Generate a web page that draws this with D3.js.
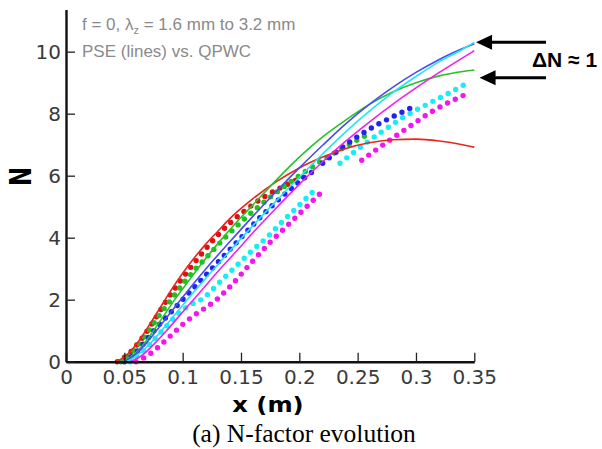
<!DOCTYPE html>
<html>
<head>
<meta charset="utf-8">
<script src="https://cdn.jsdelivr.net/npm/d3@7"></script>
<style>
  html, body { margin: 0; padding: 0; background: #fff; }
  svg { display: block; }
</style>
</head>
<body>
<svg id="chart" width="602" height="449"></svg>
<script>
// ---- Axis ticks ----
const xMajorTicks = [0, 0.05, 0.1, 0.15, 0.2, 0.25, 0.3, 0.35];
const xTickLabels = ["0", "0.05", "0.1", "0.15", "0.2", "0.25", "0.3", "0.35"];
const yMajorTicks = [0, 2, 4, 6, 8, 10];
const yTickLabels = ["0", "2", "4", "6", "8", "10"];

// ---- PSE N-factor curves (solid lines) ----
const pseRedX = [0.042, 0.05, 0.06, 0.07, 0.08, 0.09, 0.10, 0.11, 0.12, 0.13, 0.14, 0.16, 0.18, 0.20, 0.22, 0.24, 0.26, 0.28, 0.30, 0.32, 0.34, 0.35];
const pseRedN = [0, 0.15, 0.55, 1.1, 1.7, 2.3, 2.85, 3.35, 3.8, 4.2, 4.6, 5.25, 5.8, 6.25, 6.6, 6.88, 7.06, 7.16, 7.18, 7.12, 7.0, 6.92];

const pseGreenX = [0.047, 0.055, 0.065, 0.075, 0.085, 0.095, 0.105, 0.115, 0.13, 0.145, 0.16, 0.18, 0.20, 0.22, 0.24, 0.26, 0.28, 0.30, 0.32, 0.34, 0.35];
const pseGreenN = [0, 0.15, 0.5, 1.0, 1.55, 2.1, 2.6, 3.1, 3.8, 4.45, 5.05, 5.85, 6.6, 7.25, 7.8, 8.3, 8.7, 9.0, 9.22, 9.36, 9.41];

const pseBlueX = [0.05, 0.06, 0.07, 0.08, 0.09, 0.10, 0.11, 0.12, 0.14, 0.16, 0.18, 0.20, 0.22, 0.24, 0.26, 0.28, 0.30, 0.32, 0.34, 0.35];
const pseBlueN = [0, 0.25, 0.65, 1.12, 1.6, 2.08, 2.55, 3.0, 3.85, 4.68, 5.48, 6.25, 6.98, 7.68, 8.3, 8.85, 9.33, 9.75, 10.1, 10.26];

const pseCyanX = [0.052, 0.06, 0.07, 0.08, 0.09, 0.10, 0.11, 0.12, 0.14, 0.16, 0.18, 0.20, 0.22, 0.24, 0.26, 0.28, 0.30, 0.32, 0.34, 0.35];
const pseCyanN = [0, 0.18, 0.5, 0.92, 1.37, 1.82, 2.27, 2.7, 3.55, 4.38, 5.18, 5.95, 6.7, 7.42, 8.08, 8.68, 9.2, 9.68, 10.08, 10.3];

const pseMagentaX = [0.055, 0.065, 0.075, 0.085, 0.10, 0.115, 0.13, 0.145, 0.16, 0.18, 0.20, 0.22, 0.24, 0.26, 0.28, 0.30, 0.32, 0.34, 0.35];
const pseMagentaN = [0, 0.2, 0.55, 0.95, 1.6, 2.25, 2.9, 3.52, 4.15, 4.95, 5.72, 6.45, 7.12, 7.73, 8.3, 8.83, 9.33, 9.8, 10.03];

// ---- QPWC N-factor curves (dotted); null marks where a run of points is absent ----
const qpwcRedX = [0.044, 0.055, 0.065, 0.075, 0.085, 0.095, 0.105, 0.115, 0.125, 0.14, 0.155, 0.17, 0.185, 0.2, 0.205];
const qpwcRedN = [0, 0.3, 0.75, 1.3, 1.9, 2.45, 2.95, 3.42, 3.87, 4.45, 4.92, 5.32, 5.63, 5.9, 5.98];

const qpwcGreenX = [0.047, 0.06, 0.07, 0.08, 0.09, 0.10, 0.11, 0.12, 0.135, 0.15, 0.165, 0.18, 0.2, 0.22, 0.24, 0.259];
const qpwcGreenN = [0, 0.45, 0.95, 1.5, 2.0, 2.5, 2.95, 3.35, 3.95, 4.5, 5.0, 5.45, 6.0, 6.5, 6.95, 7.33];

const qpwcBlueX = [0.05, 0.06, 0.07, 0.08, 0.09, 0.10, 0.11, 0.12, 0.135, 0.15, 0.165, 0.18, 0.2, 0.212, 0.216, 0.22, 0.24, 0.26, 0.28, 0.3006];
const qpwcBlueN = [0, 0.3, 0.75, 1.2, 1.6, 2.0, 2.4, 2.8, 3.4, 4.0, 4.6, 5.15, 5.8, 6.15, null, 6.4, 7.0, 7.5, 7.9, 8.27];

const qpwcCyanX = [0.055, 0.065, 0.075, 0.085, 0.095, 0.105, 0.1177, 0.13, 0.145, 0.16, 0.172, 0.185, 0.2, 0.2134, 0.224, 0.2349, 0.25, 0.27, 0.29, 0.312, 0.33, 0.346];
const qpwcCyanN = [0, 0.3, 0.7, 1.1, 1.5, 1.8, 2.05, 2.5, 3.05, 3.6, 4.0, 4.5, 5.05, 5.55, null, 6.4, 6.85, 7.4, 7.9, 8.35, 8.7, 9.03];

const qpwcMagentaX = [0.06, 0.07, 0.08, 0.09, 0.10, 0.11, 0.12, 0.129, 0.14, 0.159, 0.175, 0.19, 0.205, 0.218, 0.235, 0.2535, 0.275, 0.295, 0.315, 0.33, 0.345];
const qpwcMagentaN = [0, 0.2, 0.5, 0.85, 1.2, 1.5, 1.75, 2.0, 2.4, 3.2, 3.85, 4.4, 4.95, 5.43, null, 6.5, 7.08, 7.6, 8.1, 8.4, 8.66];

const pseSeries = [
  { color: "#e8241e", x: pseRedX, n: pseRedN },
  { color: "#26c226", x: pseGreenX, n: pseGreenN },
  { color: "#4a4af0", x: pseBlueX, n: pseBlueN },
  { color: "#1fe6f5", x: pseCyanX, n: pseCyanN },
  { color: "#f020ee", x: pseMagentaX, n: pseMagentaN }
];
const qpwcSeries = [
  { color: "#e01010", x: qpwcRedX, n: qpwcRedN },
  { color: "#20c020", x: qpwcGreenX, n: qpwcGreenN },
  { color: "#2323f0", x: qpwcBlueX, n: qpwcBlueN },
  { color: "#18ecf5", x: qpwcCyanX, n: qpwcCyanN },
  { color: "#f414f0", x: qpwcMagentaX, n: qpwcMagentaN }
];

// ---- Scales ----
const x = d3.scaleLinear().domain([0, 0.35]).range([66, 474.3]);
const y = d3.scaleLinear().domain([0, 11.36]).range([361.7, 9.5]);

const svg = d3.select("#chart");

// ---- Curves ----
const line = d3.line()
  .defined(d => d[1] !== null)
  .x(d => x(d[0]))
  .y(d => y(d[1]))
  .curve(d3.curveMonotoneX);

const zipPts = s => s.x.map((v, i) => [v, s.n[i]]);

const plot = svg.append("g");

plot.selectAll("path.qpwc")
  .data(qpwcSeries)
  .join("path")
  .attr("class", "qpwc")
  .attr("d", s => line(zipPts(s)))
  .attr("fill", "none")
  .attr("stroke", s => s.color)
  .attr("stroke-width", 5.4)
  .attr("stroke-linecap", "round")
  .attr("stroke-dasharray", "0 8.6");

plot.selectAll("path.pse")
  .data(pseSeries)
  .join("path")
  .attr("class", "pse")
  .attr("d", s => line(zipPts(s)))
  .attr("fill", "none")
  .attr("stroke", s => s.color)
  .attr("stroke-width", 1.6);

// ---- Axes ----
const xMinor = d3.range(0, 0.3501, 0.01);
const yMinor = d3.range(0, 11.01, 0.5);

const axisFont = "'DejaVu Sans', sans-serif";

const gx = svg.append("g").attr("transform", `translate(0,${y(0)})`);
gx.call(d3.axisBottom(x).tickValues(xMinor).tickSize(-5).tickSizeOuter(0).tickFormat(""));
gx.call(d3.axisBottom(x).tickValues(xMajorTicks).tickSize(-9).tickSizeOuter(0)
  .tickPadding(8).tickFormat((d, i) => xTickLabels[i]));
gx.selectAll("path.domain").attr("stroke", "#111").attr("stroke-width", 2.4);
gx.selectAll("line").attr("stroke", "#222").attr("stroke-width", 1.3);
gx.selectAll("text").attr("font-family", axisFont).attr("font-size", 20).attr("fill", "#3a3a3a");

const gy = svg.append("g").attr("transform", `translate(${x(0)},0)`);
gy.call(d3.axisLeft(y).tickValues(yMinor).tickSize(-5).tickSizeOuter(0).tickFormat(""));
gy.call(d3.axisLeft(y).tickValues(yMajorTicks).tickSize(-9).tickSizeOuter(0)
  .tickPadding(5).tickFormat((d, i) => yTickLabels[i]));
gy.selectAll("path.domain").attr("stroke", "#111").attr("stroke-width", 2.4);
gy.selectAll("line").attr("stroke", "#222").attr("stroke-width", 1.3);
gy.selectAll("text").attr("font-family", axisFont).attr("font-size", 20).attr("fill", "#3a3a3a");

// ---- Axis titles ----
svg.append("text")
  .attr("transform", `translate(268,412) scale(1.1,1)`)
  .attr("text-anchor", "middle")
  .attr("font-family", "'DejaVu Sans', sans-serif")
  .attr("font-weight", "bold")
  .attr("font-size", 22)
  .attr("fill", "#000")
  .text("x (m)");

svg.append("text")
  .attr("transform", `translate(31,176.5) rotate(-90) scale(0.95,1.25)`)
  .attr("text-anchor", "middle")
  .attr("font-family", "'DejaVu Sans', sans-serif")
  .attr("font-weight", "bold")
  .attr("font-size", 24)
  .attr("fill", "#000")
  .text("N");

// ---- Case description ----
const note = svg.append("g")
  .attr("font-family", "'Liberation Sans', Arial, sans-serif")
  .attr("font-size", 17)
  .attr("fill", "#8a8a8a");
const l1 = note.append("text").attr("x", 82).attr("y", 30);
l1.append("tspan").text("f = 0, ");
l1.append("tspan").text("λ");
l1.append("tspan").attr("font-size", 11).attr("dy", 4).text("z");
l1.append("tspan").attr("dy", -4).text(" = 1.6 mm to 3.2 mm");
note.append("text").attr("x", 82).attr("y", 57).text("PSE (lines) vs. QPWC");

// ---- ΔN annotation arrows (pointing at the curve end values) ----
const arrows = [
  { xTip: 0.3515, nTip: 10.3 },
  { xTip: 0.3545, nTip: 9.16 }
];
const ann = svg.append("g");
arrows.forEach(a => {
  const tx = x(a.xTip), ty = y(a.nTip);
  ann.append("line")
    .attr("x1", tx + 10).attr("y1", ty)
    .attr("x2", 546).attr("y2", ty)
    .attr("stroke", "#000").attr("stroke-width", 3);
  ann.append("path")
    .attr("d", `M${tx},${ty} L${tx + 16},${ty - 7.5} L${tx + 16},${ty + 7.5} Z`)
    .attr("fill", "#000");
});
ann.append("text")
  .attr("x", 532).attr("y", 67)
  .attr("font-family", "'Liberation Sans', Arial, sans-serif")
  .attr("font-weight", "bold")
  .attr("font-size", 21)
  .attr("fill", "#000")
  .text("ΔN ≈ 1");

// ---- Caption ----
svg.append("text")
  .attr("x", 304).attr("y", 442)
  .attr("text-anchor", "middle")
  .attr("font-family", "'Liberation Serif', 'Times New Roman', serif")
  .attr("font-size", 25.5)
  .attr("fill", "#000")
  .text("(a) N-factor evolution");
</script>
</body>
</html>
